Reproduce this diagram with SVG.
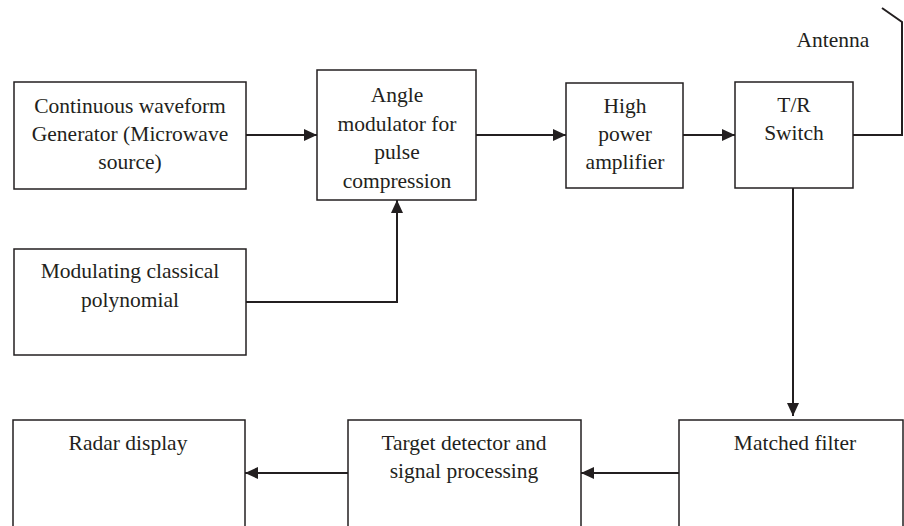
<svg xmlns="http://www.w3.org/2000/svg" width="904" height="526" viewBox="0 0 904 526">
<style>
.box{fill:#fff;stroke:#231f20;stroke-width:1.5}
.t{font-family:"Liberation Serif","Times New Roman",serif;font-size:21.5px;fill:#231f20;text-anchor:middle}
.c{fill:none;stroke:#231f20;stroke-width:2}
</style>
<defs>
<marker id="ah" markerWidth="13" markerHeight="12" refX="13" refY="6" orient="auto" markerUnits="userSpaceOnUse">
<path d="M0,0 L13,6 L0,12 Z" fill="#231f20"/>
</marker>
</defs>
<rect width="904" height="526" fill="#fff"/>
<g id="cw">
<rect class="box" x="14" y="82" width="232" height="107"/>
<text class="t" x="130" y="113">Continuous waveform</text>
<text class="t" x="130" y="141">Generator (Microwave</text>
<text class="t" x="130" y="169">source)</text>
</g>
<g id="angle">
<rect class="box" x="317" y="70" width="159" height="130"/>
<text class="t" x="397" y="102">Angle</text>
<text class="t" x="397" y="131">modulator for</text>
<text class="t" x="397" y="159">pulse</text>
<text class="t" x="397" y="188">compression</text>
</g>
<g id="hpa">
<rect class="box" x="566" y="83" width="117" height="105"/>
<text class="t" x="625" y="113">High</text>
<text class="t" x="625" y="141">power</text>
<text class="t" x="625" y="169">amplifier</text>
</g>
<g id="tr">
<rect class="box" x="735" y="82" width="118" height="106"/>
<text class="t" x="794" y="112">T/R</text>
<text class="t" x="794" y="140">Switch</text>
</g>
<g id="antenna">
<text class="t" x="833" y="47">Antenna</text>
</g>
<g id="mod">
<rect class="box" x="14" y="249" width="232" height="106"/>
<text class="t" x="130" y="278">Modulating classical</text>
<text class="t" x="130" y="307">polynomial</text>
</g>
<g id="mf">
<rect class="box" x="679" y="420" width="224" height="112"/>
<text class="t" x="795" y="450">Matched filter</text>
</g>
<g id="td">
<rect class="box" x="348" y="420" width="233" height="112"/>
<text class="t" x="464" y="450">Target detector and</text>
<text class="t" x="464" y="478">signal processing</text>
</g>
<g id="rd">
<rect class="box" x="13" y="420" width="232" height="112"/>
<text class="t" x="128" y="450">Radar display</text>
</g>
<g id="connectors">
<line class="c" x1="246" y1="135" x2="317" y2="135" marker-end="url(#ah)"/>
<line class="c" x1="476" y1="135" x2="566" y2="135" marker-end="url(#ah)"/>
<line class="c" x1="683" y1="135" x2="735" y2="135" marker-end="url(#ah)"/>
<polyline class="c" points="853,135 902,135 902,22 882,8"/>
<polyline class="c" points="246,302 397,302 397,200" marker-end="url(#ah)"/>
<line class="c" x1="793" y1="188" x2="793" y2="416" marker-end="url(#ah)"/>
<line class="c" x1="679" y1="473" x2="581" y2="473" marker-end="url(#ah)"/>
<line class="c" x1="348" y1="473" x2="245" y2="473" marker-end="url(#ah)"/>
</g>
</svg>
